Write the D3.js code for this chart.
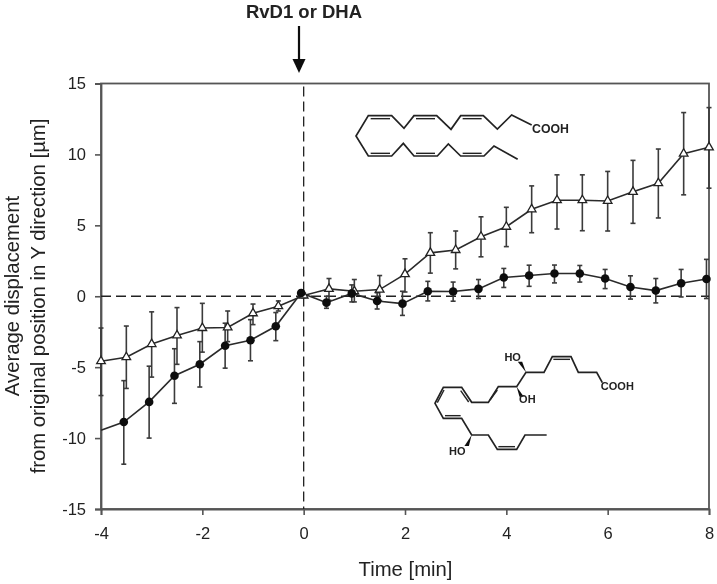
<!DOCTYPE html>
<html><head><meta charset="utf-8">
<script src="https://cdnjs.cloudflare.com/ajax/libs/d3/7.8.5/d3.min.js"></script>
<style>html,body{margin:0;background:#fff}svg{display:block}text{font-family:"Liberation Sans",Arial,sans-serif;fill:#222}</style>
</head><body><svg id="c" width="717" height="584"></svg>
<script>
const triTime=[-4,-3.5,-3,-2.5,-2,-1.5,-1,-0.5,0,0.5,1,1.5,2,2.5,3,3.5,4,4.5,5,5.5,6,6.5,7,7.5,8];
const triValue=[-4.58,-4.3,-3.37,-2.76,-2.24,-2.2,-1.2,-0.7,0.05,0.52,0.35,0.47,1.56,3.06,3.26,4.2,4.9,6.13,6.77,6.77,6.72,7.36,7.97,10.05,10.5];
const triUpper=[-2.24,-2.1,-1.1,-0.8,-0.5,-1.04,-0.55,-0.33,0.2,1.25,1.18,1.46,2.64,4.48,4.6,5.6,6.27,7.78,8.56,8.56,8.8,9.58,10.38,12.95,13.3];
const triLower=[-7,-6.5,-5.7,-4.8,-3.94,-3.2,-2,-1.04,-0.1,-0.28,-0.4,-0.3,0.3,1.63,1.93,2.78,3.5,4.48,4.74,4.62,4.6,5.14,5.52,7.15,7.62];
const dotTime=[-3.55,-3.05,-2.55,-2.05,-1.55,-1.05,-0.55,-0.05,0.45,0.95,1.45,1.95,2.45,2.95,3.45,3.95,4.45,4.95,5.45,5.95,6.45,6.95,7.45,7.95];
const dotValue=[-8.87,-7.45,-5.6,-4.79,-3.49,-3.1,-2.12,0.23,-0.45,0.2,-0.33,-0.52,0.35,0.33,0.52,1.32,1.46,1.6,1.6,1.25,0.65,0.4,0.92,1.22];
const dotUpper=[-5.95,-4.93,-3.7,-3.2,-1.9,-1.65,-1.15,0.4,0,0.8,0.25,0.35,1.05,1,1.18,1.96,2.19,2.2,2.17,1.89,1.44,1.25,1.89,2.6];
const dotLower=[-11.84,-10,-7.55,-6.4,-5.07,-4.55,-3.13,0.05,-0.85,-0.4,-0.9,-1.35,-0.33,-0.35,-0.16,0.62,0.7,0.94,1,0.54,-0.2,-0.47,-0.05,-0.16];
const dotLineStart=[-4,-9.45];
const xTicks=[-4,-2,0,2,4,6,8];
const yTicks=[-15,-10,-5,0,5,10,15];
const labels={arrow:"RvD1 or DHA",x:"Time [min]",y1:"Average displacement",y2:"from original position in Y direction [µm]"};

// Decorative chemical structures, in zoomed-crop units
const dhaChain=[[575,105],[515,75],[472,117],[430,77],[362,77],[333,118],[290,77],[222,77],[192,115],[155,77],[85,77],[48,138],[85,198],[155,198],[190,160],[222,198],[292,198],[325,162],[362,198],[432,198],[462,168],[533,208]];
const dhaBonds=[[[92,86],[150,86]],[[228,86],[285,86]],[[368,86],[425,86]],[[92,190],[150,190]],[[228,190],[285,190]],[[368,190],[425,190]]];
const rvChain=[[547,128],[530,97],[475,97],[453,50],[397,50],[372,97],[318,97],[290,140],[235,140],[205,187],[155,187],[125,142],[70,142],[45,190],[70,235],[125,235],[155,285],[205,285],[232,328],[290,328],[315,285],[380,285]];
const rvBonds=[[[400,58],[450,58]],[[232,150],[210,180]],[[122,152],[146,186]],[[72,150],[52,188]],[[75,227],[122,227]],[[235,320],[285,320]]];
const rvWedges=[[[318,97],[300,65]],[[290,140],[305,170]],[[155,285],[140,318]]];
const rvText=[["HO",278,50],["OH",322,178],["HO",112,332],["COOH",592,137]];

const svg=d3.select("#c");
const defs=svg.append("defs");
defs.append("filter").attr("id","soft").attr("filterUnits","userSpaceOnUse").attr("x",0).attr("y",0).attr("width",717).attr("height",584)
  .append("feGaussianBlur").attr("stdDeviation",0.4);
const root=svg.append("g").attr("filter","url(#soft)");
const L=101,R=709,T=83.5,B=509;
const x=d3.scaleLinear().domain([-4,8]).range([L,R]);
const y=d3.scaleLinear().domain([-15,15]).range([B,T]);
const ink="#555";

// frame
root.append("rect").attr("x",L).attr("y",T).attr("width",R-L).attr("height",B-T).attr("fill","none").attr("stroke",ink).attr("stroke-width",1.8);
// axes
const fmt=d=>String(d);
const ax=root.append("g").attr("transform",`translate(0,${B})`).call(d3.axisBottom(x).tickValues(xTicks).tickSize(6).tickPadding(12).tickFormat(fmt));
const ay=root.append("g").attr("transform",`translate(${L},0)`).call(d3.axisLeft(y).tickValues(yTicks).tickSize(6).tickPadding(9).tickFormat(fmt));
[ax,ay].forEach(a=>{a.select(".domain").attr("stroke",ink).attr("stroke-width",1.8);
  a.selectAll(".tick line").attr("stroke",ink).attr("stroke-width",1.6);
  a.selectAll("text").attr("font-size",16.5).attr("font-family","Liberation Sans").attr("fill","#222");});

// reference lines
root.append("line").attr("x1",L).attr("x2",R).attr("y1",y(0)).attr("y2",y(0)).attr("stroke","#222").attr("stroke-width",1.6).attr("stroke-dasharray","10 5");
root.append("line").attr("x1",x(0)).attr("x2",x(0)).attr("y1",T+3).attr("y2",B).attr("stroke","#222").attr("stroke-width",1.3).attr("stroke-dasharray","10 5");

// error bars
function bars(ts,up,lo,w){
  const g=root.append("g").attr("stroke","#3a3a3a").attr("stroke-width",w);
  ts.forEach((t,i)=>{
    g.append("line").attr("x1",x(t)).attr("x2",x(t)).attr("y1",y(up[i])).attr("y2",y(lo[i]));
    [up[i],lo[i]].forEach(v=>g.append("line").attr("x1",x(t)-2.5).attr("x2",x(t)+2.5).attr("y1",y(v)).attr("y2",y(v)));
  });
}
bars(triTime,triUpper,triLower,1.6);
bars(dotTime,dotUpper,dotLower,1.6);

// lines
const line=d3.line().x(d=>x(d[0])).y(d=>y(d[1]));
root.append("path").attr("d",line(d3.zip(triTime,triValue))).attr("fill","none").attr("stroke","#2a2a2a").attr("stroke-width",1.6);
root.append("path").attr("d",line([dotLineStart].concat(d3.zip(dotTime,dotValue)))).attr("fill","none").attr("stroke","#2a2a2a").attr("stroke-width",1.6);

// markers
const tri=d3.symbol().type(d3.symbolTriangle).size(32);
root.append("g").selectAll("path").data(d3.zip(triTime,triValue)).join("path")
  .attr("d",tri).attr("transform",d=>`translate(${x(d[0])},${y(d[1])})`)
  .attr("fill","#fff").attr("stroke","#222").attr("stroke-width",1.3);
root.append("g").selectAll("circle").data(d3.zip(dotTime,dotValue)).join("circle")
  .attr("cx",d=>x(d[0])).attr("cy",d=>y(d[1])).attr("r",4.3).attr("fill","#111");

// annotation
root.append("text").attr("x",304).attr("y",18).attr("text-anchor","middle").attr("font-size",18.5).attr("font-weight","bold").text(labels.arrow);
root.append("line").attr("x1",299).attr("x2",299).attr("y1",26).attr("y2",62).attr("stroke","#111").attr("stroke-width",2.2);
root.append("path").attr("d","M292.5 59 L305.5 59 L299 73 Z").attr("fill","#111");

// titles
root.append("text").attr("x",405.5).attr("y",576).attr("text-anchor","middle").attr("font-size",20.3).text(labels.x);
root.append("text").attr("transform",`translate(19,296) rotate(-90)`).attr("text-anchor","middle").attr("font-size",20.3).text(labels.y1);
root.append("text").attr("transform",`translate(45,296) rotate(-90)`).attr("text-anchor","middle").attr("font-size",20.3).text(labels.y2);

// molecules
function molecule(ox,oy,chain,bonds){
  const sx=d=>ox+d[0]/3, sy=d=>oy+d[1]/3;
  const l=d3.line().x(sx).y(sy);
  const g=root.append("g").attr("fill","none").attr("stroke","#222");
  g.append("path").attr("d",l(chain)).attr("stroke-width",1.7);
  bonds.forEach(b=>g.append("path").attr("d",l(b)).attr("stroke-width",1.4));
  return {g,sx,sy};
}
molecule(340,90,dhaChain,dhaBonds);
root.append("text").attr("x",532).attr("y",133).attr("font-size",12.3).attr("font-weight","bold").text("COOH");
const rv=molecule(420,340,rvChain,rvBonds);
rvWedges.forEach(w=>{
  const a=[rv.sx(w[0]),rv.sy(w[0])],b=[rv.sx(w[1]),rv.sy(w[1])];
  root.append("path").attr("d",`M${a[0]} ${a[1]}L${b[0]-2.2} ${b[1]}L${b[0]+2.2} ${b[1]}Z`).attr("fill","#111");
});
rvText.forEach(t=>root.append("text").attr("x",420+t[1]/3).attr("y",340+t[2]/3+4).attr("text-anchor","middle").attr("font-size",11).attr("font-weight","bold").text(t[0]));
</script></body></html>
